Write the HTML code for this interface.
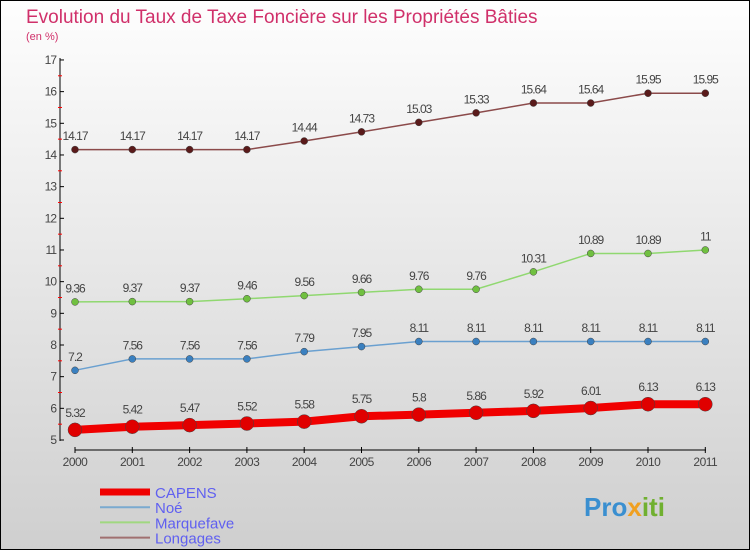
<!DOCTYPE html>
<html><head><meta charset="utf-8"><style>
body{margin:0;width:750px;height:550px;overflow:hidden;font-family:"Liberation Sans",sans-serif}
</style></head><body>
<svg width="750" height="550" xmlns="http://www.w3.org/2000/svg">
<defs><linearGradient id="bg" x1="0" y1="0" x2="0" y2="1"><stop offset="0" stop-color="#fefefe"/><stop offset="1" stop-color="#cfcfcf"/></linearGradient></defs>
<rect x="0" y="0" width="750" height="550" fill="url(#bg)" stroke="#000" stroke-width="2"/>
<text x="26" y="23" font-size="19" fill="#d0306a">Evolution du Taux de Taxe Foncière sur les Propriétés Bâties</text>
<text x="26" y="40" font-size="11" fill="#d0306a">(en %)</text>
<g id="axes"></g>
<g id="series"></g>
<g id="legend"></g>
<text x="584" y="516" font-size="26" font-weight="bold" fill="#3a8fd0">Pro<tspan fill="#f0a020">x</tspan><tspan fill="#70b030">iti</tspan></text>
</svg>
<script>
const years=[2000,2001,2002,2003,2004,2005,2006,2007,2008,2009,2010,2011];
const capens=[5.32,5.42,5.47,5.52,5.58,5.75,5.8,5.86,5.92,6.01,6.13,6.13];
const noe=[7.2,7.56,7.56,7.56,7.79,7.95,8.11,8.11,8.11,8.11,8.11,8.11];
const marquefave=[9.36,9.37,9.37,9.46,9.56,9.66,9.76,9.76,10.31,10.89,10.89,11];
const longages=[14.17,14.17,14.17,14.17,14.44,14.73,15.03,15.33,15.64,15.64,15.95,15.95];
const yTicks=[5,6,7,8,9,10,11,12,13,14,15,16,17];
const NS="http://www.w3.org/2000/svg";
const X=i=>75+i*57.3;
const Y=v=>440-(v-5)*31.67;
function el(t,a,p){const e=document.createElementNS(NS,t);for(const k in a)e.setAttribute(k,a[k]);p.appendChild(e);return e;}
const ax=document.getElementById('axes');
let l=el('line',{x1:60,y1:58,x2:60,y2:441,stroke:'#000','stroke-width':1},ax);


l=el('line',{x1:75,y1:450,x2:706,y2:450,stroke:'#000','stroke-width':1},ax);


yTicks.forEach(v=>{
  el('line',{x1:60,y1:Y(v),x2:64,y2:Y(v),stroke:'#000'},ax);
  if(v<17)el('line',{x1:58,y1:Y(v+0.5),x2:62,y2:Y(v+0.5),stroke:'#f00'},ax);
  const t=el('text',{x:56,y:Y(v)+4,'font-size':12,'text-anchor':'end',fill:'#444','letter-spacing':'-1'},ax);
  t.textContent=v;
  
  
});
years.forEach((y,i)=>{
  el('line',{x1:X(i),y1:447,x2:X(i),y2:453,stroke:'#000'},ax);
  const t=el('text',{x:X(i),y:466,'font-size':12,'text-anchor':'middle',fill:'#444','letter-spacing':'-0.5'},ax);
  t.textContent=y;
  
  
});
const sg=document.getElementById('series');
const defs=[
 {d:longages,c:'#8b4a4a',p:'#5a1a1a',w:1.5,r:3.5,n:'longages'},
 {d:marquefave,c:'#90d870',p:'#70c040',w:1.5,r:3.5,n:'marquefave'},
 {d:noe,c:'#6aa0d0',p:'#3a80c0',w:1.5,r:3.5,n:'noe'},
 {d:capens,c:'#f00000',p:'#e00000',w:8,r:7,n:'capens'}];
defs.forEach(s=>{
  const g=el('g',{},sg);
  
  
  const pl=el('polyline',{points:s.d.map((v,i)=>X(i)+','+Y(v)).join(' '),fill:'none',stroke:s.c,'stroke-width':s.w},g);
  
  
  s.d.forEach((v,i)=>{
    const c=el('circle',{cx:X(i),cy:Y(v),r:s.r,fill:s.p,stroke:'#444','stroke-width':0.5},g);
    
    
    const t=el('text',{x:X(i),y:Y(v)-(s.r+6),'font-size':12,'text-anchor':'middle',fill:'#444','letter-spacing':'-1'},g);
    t.textContent=v;
    
    
  });
});
const lg=document.getElementById('legend');
const items=[['CAPENS','#f00000',7],['Noé','#7aaad0',2],['Marquefave','#a0d880',2],['Longages','#a07070',2]];
items.forEach((it,i)=>{
  const y=492+i*15.2;
  const g=el('g',{},lg);
  
  
  el('line',{x1:100,y1:y,x2:150,y2:y,stroke:it[1],'stroke-width':it[2]},g);
  const t=el('text',{x:155,y:y+6,'font-size':15,fill:'#6060f0'},g);
  t.textContent=it[0];
});
</script>
</body></html>
